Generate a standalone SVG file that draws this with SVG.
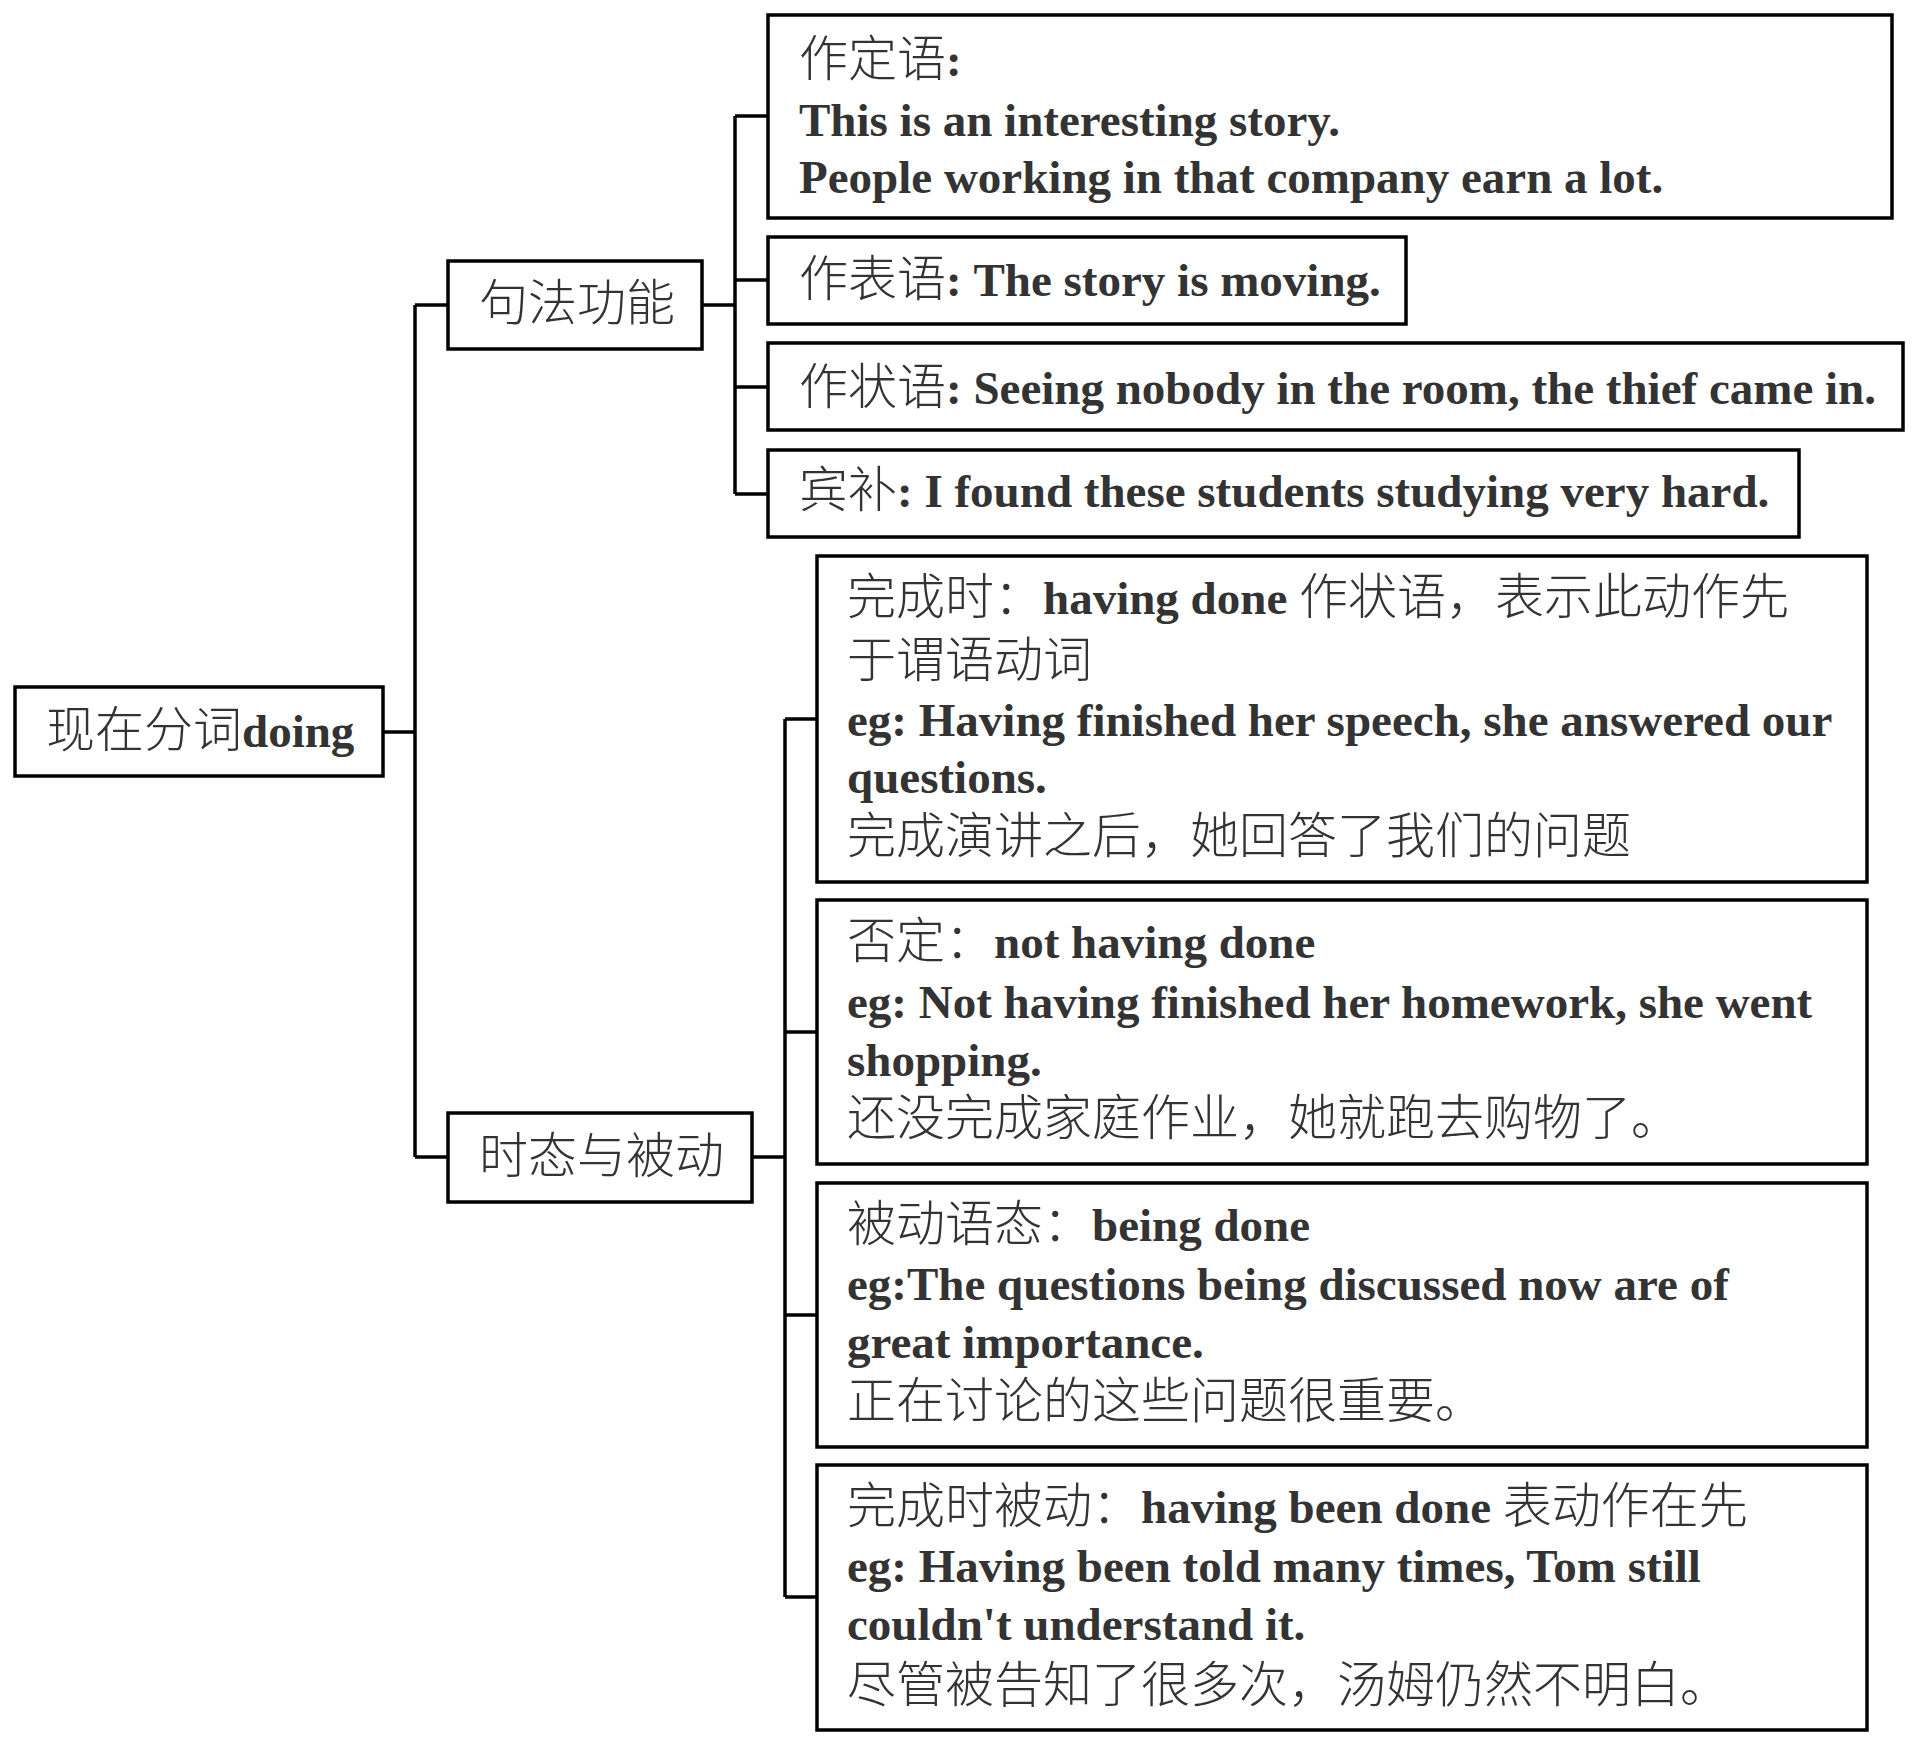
<svg xmlns="http://www.w3.org/2000/svg" width="1920" height="1745" viewBox="0 0 1920 1745">
<style>
.box{fill:#fff;stroke:#000;stroke-width:3.5}
.ln{fill:none;stroke:#000;stroke-width:3.5}
text{fill:#333}
.cn{font-family:"Noto Sans CJK SC",sans-serif;font-size:49px;font-weight:300}
.en{font-family:"Liberation Serif","Times New Roman",serif;font-size:47px;font-weight:bold}
</style>
<rect width="1920" height="1745" fill="#fff"/>
<g id="connectors">
<path class="ln" d="M383 732H415M415 305V1157M415 305H448M415 1157H448"/>
<path class="ln" d="M702 305H735M735 116V494M735 116H768M735 280H768M735 387H768M735 494H768"/>
<path class="ln" d="M752 1157H785M785 719V1597M785 719H817M785 1032H817M785 1315H817M785 1597H817"/>
</g>
<g id="root">
<rect class="box" x="15" y="687" width="368" height="89"/>
<text x="46" y="747"><tspan class="cn">现在分词</tspan><tspan class="en">doing</tspan></text>
</g>
<g id="syntax">
<rect class="box" x="448" y="261" width="254" height="88"/>
<text class="cn" x="479" y="320">句法功能</text>
</g>
<g id="tense">
<rect class="box" x="448" y="1113" width="304" height="89"/>
<text class="cn" x="479" y="1173">时态与被动</text>
</g>
<g id="attr">
<rect class="box" x="768" y="15" width="1124" height="203"/>
<text x="799" y="76"><tspan class="cn">作定语</tspan><tspan class="en">:</tspan></text>
<text class="en" x="799" y="136">This is an interesting story.</text>
<text class="en" x="799" y="193">People working in that company earn a lot.</text>
</g>
<g id="pred">
<rect class="box" x="768" y="237" width="638" height="87"/>
<text x="799" y="296"><tspan class="cn">作表语</tspan><tspan class="en">: The story is moving.</tspan></text>
</g>
<g id="adv">
<rect class="box" x="768" y="343" width="1135" height="87"/>
<text x="799" y="404"><tspan class="cn">作状语</tspan><tspan class="en">: Seeing nobody in the room, the thief came in.</tspan></text>
</g>
<g id="objcomp">
<rect class="box" x="768" y="450" width="1031" height="87"/>
<text x="799" y="507"><tspan class="cn">宾补</tspan><tspan class="en">: I found these students studying very hard.</tspan></text>
</g>
<g id="perfect">
<rect class="box" x="817" y="556" width="1050" height="326"/>
<text x="847" y="614"><tspan class="cn">完成时：</tspan><tspan class="en">having done </tspan><tspan class="cn">作状语，表示此动作先</tspan></text>
<text class="cn" x="847" y="677">于谓语动词</text>
<text class="en" x="847" y="736">eg: Having finished her speech, she answered our</text>
<text class="en" x="847" y="793">questions.</text>
<text class="cn" x="847" y="853">完成演讲之后，她回答了我们的问题</text>
</g>
<g id="negative">
<rect class="box" x="817" y="900" width="1050" height="264"/>
<text x="847" y="958"><tspan class="cn">否定：</tspan><tspan class="en">not having done</tspan></text>
<text class="en" x="847" y="1018">eg: Not having finished her homework, she went</text>
<text class="en" x="847" y="1076">shopping.</text>
<text class="cn" x="847" y="1135">还没完成家庭作业，她就跑去购物了。</text>
</g>
<g id="passive">
<rect class="box" x="817" y="1183" width="1050" height="264"/>
<text x="847" y="1241"><tspan class="cn">被动语态：</tspan><tspan class="en">being done</tspan></text>
<text class="en" x="847" y="1300">eg:The questions being discussed now are of</text>
<text class="en" x="847" y="1358">great importance.</text>
<text class="cn" x="847" y="1418">正在讨论的这些问题很重要。</text>
</g>
<g id="perfectpassive">
<rect class="box" x="817" y="1465" width="1050" height="265"/>
<text x="847" y="1523"><tspan class="cn">完成时被动：</tspan><tspan class="en">having been done </tspan><tspan class="cn">表动作在先</tspan></text>
<text class="en" x="847" y="1582">eg: Having been told many times, Tom still</text>
<text class="en" x="847" y="1640">couldn't understand it.</text>
<text class="cn" x="847" y="1702">尽管被告知了很多次，汤姆仍然不明白。</text>
</g>
</svg>
